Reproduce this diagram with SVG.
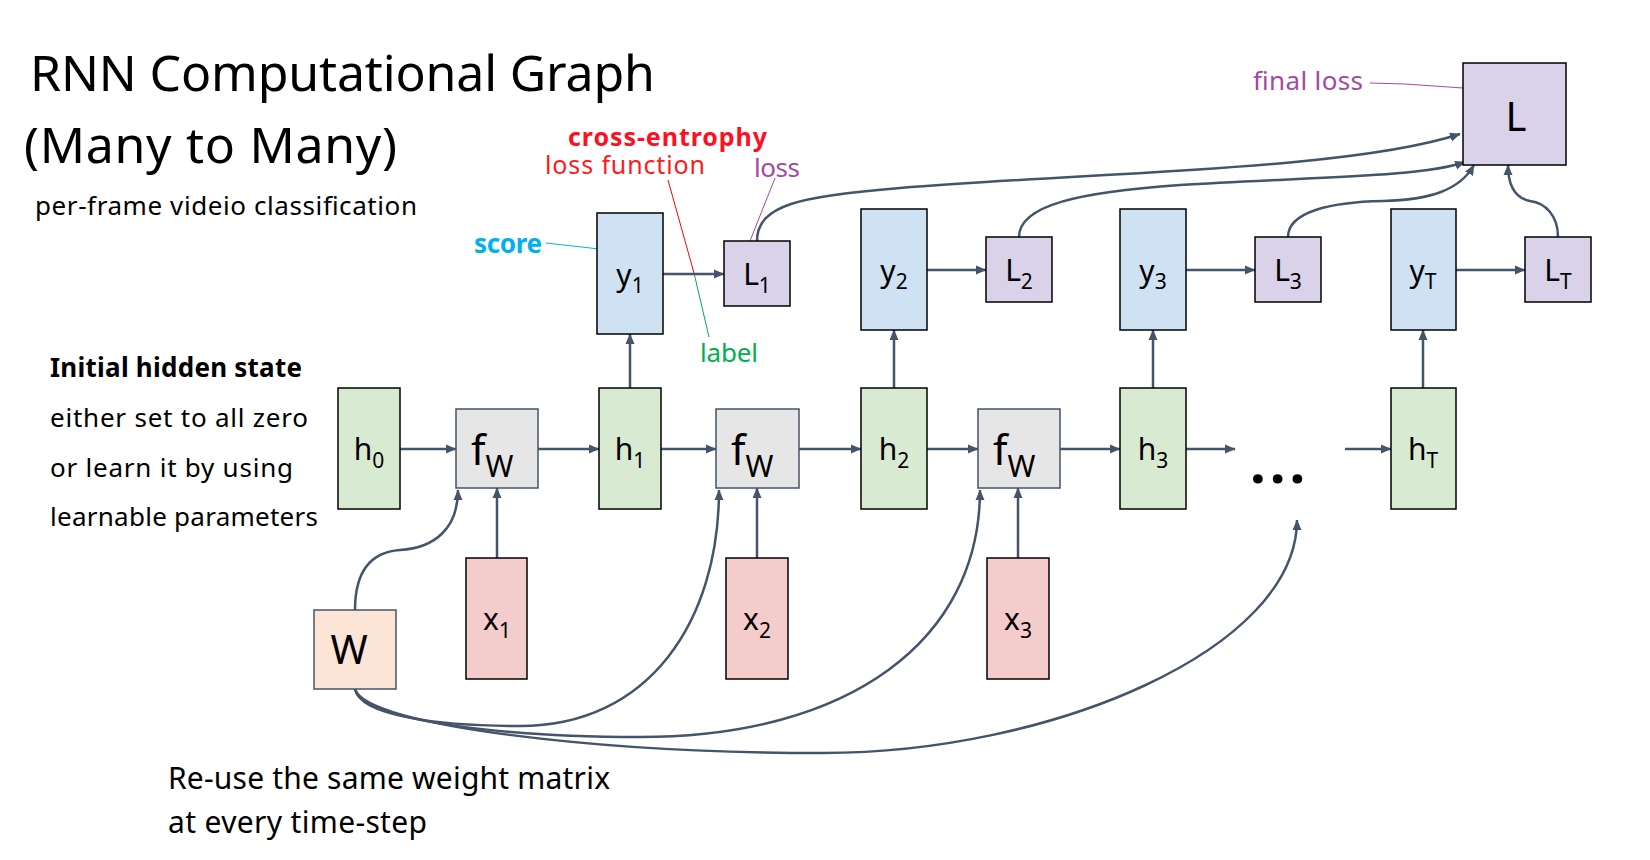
<svg xmlns="http://www.w3.org/2000/svg" width="1650" height="860" viewBox="0 0 1650 860">
<defs>
<style>
text{font-family:"Noto Sans","Liberation Sans",sans-serif;fill:#000}
.bh{fill:#D9EAD3;stroke:#000;stroke-width:1.5}
.by{fill:#CFE2F3;stroke:#000;stroke-width:1.5}
.bl{fill:#D9D2E9;stroke:#000;stroke-width:1.5}
.bx{fill:#F4CCCC;stroke:#000;stroke-width:1.5}
.bf{fill:#E7E6E6;stroke:#44546A;stroke-width:1.5}
.bw{fill:#FCE4D6;stroke:#44546A;stroke-width:1.5}
.lbl{font-size:30px;text-anchor:middle}
.sub{font-size:21px}
.fl{font-size:42px}
.fs{font-size:30px}
.c{fill:none;stroke:#44546A;stroke-width:2.5}
.a{marker-end:url(#ah)}
.t26{font-size:26px}
</style>
<marker id="ah" markerUnits="userSpaceOnUse" markerWidth="11" markerHeight="10" refX="10" refY="5" orient="auto" viewBox="0 0 11 10">
<path d="M0,0.5 L10.5,5 L0,9.5 z" fill="#44546A"/>
</marker>
</defs>
<rect width="1650" height="860" fill="#fff"/>

<!-- texts -->
<g id="titles">
<text x="30" y="91" font-size="50" textLength="625">RNN Computational Graph</text>
<text x="24" y="163" font-size="50" textLength="373">(Many to Many)</text>
<text x="35" y="215" class="t26" textLength="382">per-frame videio classification</text>
</g>
<g id="notes-left">
<text x="50" y="377" class="t26" font-weight="bold" textLength="252">Initial hidden state</text>
<text x="50" y="427" class="t26" textLength="258">either set to all zero</text>
<text x="50" y="477" class="t26" textLength="243">or learn it by using</text>
<text x="50" y="526" class="t26" textLength="268">learnable parameters</text>
</g>
<g id="notes-bottom">
<text x="168" y="789" font-size="30" textLength="442">Re-use the same weight matrix</text>
<text x="168" y="833" font-size="30" textLength="259">at every time-step</text>
</g>
<g id="annotations">
<text x="474" y="253" class="t26" font-weight="bold" style="fill:#00B0F0" textLength="68">score</text>
<line x1="546" y1="243" x2="599" y2="249" stroke="#00B0F0" stroke-width="1"/>
<text x="568" y="146" font-size="25" font-weight="bold" style="fill:#FF1020" textLength="199">cross-entrophy</text>
<text x="545" y="174" font-size="25" style="fill:#FF1A1A" textLength="160">loss function</text>
<line x1="668" y1="180" x2="694" y2="273" stroke="#FF0000" stroke-width="1"/>
<line x1="694" y1="273" x2="709" y2="337" stroke="#00B050" stroke-width="1"/>
<text x="700" y="362" class="t26" style="fill:#00B050" textLength="58">label</text>
<text x="754" y="177" class="t26" style="fill:#A349A4" textLength="46">loss</text>
<line x1="775" y1="178" x2="750" y2="241" stroke="#A349A4" stroke-width="1"/>
<text x="1253" y="90" class="t26" style="fill:#A349A4" textLength="110">final loss</text>
<polyline points="1370,83 1405,84 1463,88" fill="none" stroke="#A349A4" stroke-width="1"/>
</g>

<!-- connectors -->
<g id="connectors">
<line class="c a" x1="400" y1="449" x2="456" y2="449"/>
<line class="c a" x1="538" y1="449" x2="599" y2="449"/>
<line class="c a" x1="661" y1="449" x2="716" y2="449"/>
<line class="c a" x1="799" y1="449" x2="861" y2="449"/>
<line class="c a" x1="927" y1="449" x2="978" y2="449"/>
<line class="c a" x1="1060" y1="449" x2="1120" y2="449"/>
<line class="c a" x1="1186" y1="449" x2="1235" y2="449"/>
<line class="c a" x1="1345" y1="449" x2="1391" y2="449"/>
<line class="c a" x1="630" y1="388" x2="630" y2="334"/>
<line class="c a" x1="894" y1="388" x2="894" y2="330"/>
<line class="c a" x1="1153" y1="388" x2="1153" y2="330"/>
<line class="c a" x1="1423" y1="388" x2="1423" y2="330"/>
<line class="c a" x1="497" y1="558" x2="497" y2="488"/>
<line class="c a" x1="757" y1="558" x2="757" y2="488"/>
<line class="c a" x1="1018" y1="558" x2="1018" y2="488"/>
<line class="c a" x1="663" y1="274" x2="724" y2="274"/>
<line class="c a" x1="927" y1="270" x2="986" y2="270"/>
<line class="c a" x1="1186" y1="270" x2="1255" y2="270"/>
<line class="c a" x1="1456" y1="270" x2="1525" y2="270"/>
<path class="c a" d="M355,610 C355,570 372,552 400,550 C435,548 458,528 458,490"/>
<path class="c a" d="M355,689 C360,716 440,726 520,726 C650,726 719,620 719,490"/>
<path class="c a" d="M355,689 C362,720 500,737 640,737 C850,737 980,640 980,490"/>
<path class="c a" d="M355,689 C366,726 600,753 823,753 C1050,753 1297,650 1297,520"/>
<path class="c a" d="M757,241 C757,205 800,196 900,188 C1100,172 1350,170 1460,134"/>
<path class="c a" d="M1019,237 C1019,205 1080,192 1180,185 C1300,177 1420,178 1465,162"/>
<path class="c a" d="M1288,237 C1288,212 1330,202 1383,201 C1430,200 1460,190 1474,165"/>
<path class="c a" d="M1558,237 C1558,215 1545,203 1530,201 C1515,198 1508,185 1508,165"/>
</g>

<!-- nodes -->
<g id="node-h0"><rect class="bh" x="338" y="388" width="62" height="121"/><text class="lbl" x="369" y="460">h<tspan class="sub" dy="8">0</tspan></text></g>
<g id="node-h1"><rect class="bh" x="599" y="388" width="62" height="121"/><text class="lbl" x="630" y="460">h<tspan class="sub" dy="8">1</tspan></text></g>
<g id="node-h2"><rect class="bh" x="861" y="388" width="66" height="121"/><text class="lbl" x="894" y="460">h<tspan class="sub" dy="8">2</tspan></text></g>
<g id="node-h3"><rect class="bh" x="1120" y="388" width="66" height="121"/><text class="lbl" x="1153" y="460">h<tspan class="sub" dy="8">3</tspan></text></g>
<g id="node-hT"><rect class="bh" x="1391" y="388" width="65" height="121"/><text class="lbl" x="1423" y="460">h<tspan class="sub" dy="8">T</tspan></text></g>

<g id="node-fw1"><rect class="bf" x="456" y="409" width="82" height="79"/><text x="471" y="465"><tspan class="fl">f</tspan><tspan class="fs" dy="12">W</tspan></text></g>
<g id="node-fw2"><rect class="bf" x="716" y="409" width="83" height="79"/><text x="731" y="465"><tspan class="fl">f</tspan><tspan class="fs" dy="12">W</tspan></text></g>
<g id="node-fw3"><rect class="bf" x="978" y="409" width="82" height="79"/><text x="993" y="465"><tspan class="fl">f</tspan><tspan class="fs" dy="12">W</tspan></text></g>

<g id="node-y1"><rect class="by" x="597" y="213" width="66" height="121"/><text class="lbl" x="630" y="286">y<tspan class="sub" dy="7">1</tspan></text></g>
<g id="node-y2"><rect class="by" x="861" y="209" width="66" height="121"/><text class="lbl" x="894" y="282">y<tspan class="sub" dy="7">2</tspan></text></g>
<g id="node-y3"><rect class="by" x="1120" y="209" width="66" height="121"/><text class="lbl" x="1153" y="282">y<tspan class="sub" dy="7">3</tspan></text></g>
<g id="node-yT"><rect class="by" x="1391" y="209" width="65" height="121"/><text class="lbl" x="1423" y="282">y<tspan class="sub" dy="7">T</tspan></text></g>

<g id="node-L1"><rect class="bl" x="724" y="241" width="66" height="65"/><text class="lbl" x="757" y="285">L<tspan class="sub" dy="8">1</tspan></text></g>
<g id="node-L2"><rect class="bl" x="986" y="237" width="66" height="65"/><text class="lbl" x="1019" y="281">L<tspan class="sub" dy="8">2</tspan></text></g>
<g id="node-L3"><rect class="bl" x="1255" y="237" width="66" height="65"/><text class="lbl" x="1288" y="281">L<tspan class="sub" dy="8">3</tspan></text></g>
<g id="node-LT"><rect class="bl" x="1525" y="237" width="66" height="65"/><text class="lbl" x="1558" y="281">L<tspan class="sub" dy="8">T</tspan></text></g>
<g id="node-L"><rect class="bl" x="1463" y="63" width="103" height="102"/><text class="lbl" x="1516" y="131" style="font-size:40px">L</text></g>

<g id="node-x1"><rect class="bx" x="466" y="558" width="61" height="121"/><text class="lbl" x="497" y="630">x<tspan class="sub" dy="8">1</tspan></text></g>
<g id="node-x2"><rect class="bx" x="726" y="558" width="62" height="121"/><text class="lbl" x="757" y="630">x<tspan class="sub" dy="8">2</tspan></text></g>
<g id="node-x3"><rect class="bx" x="987" y="558" width="62" height="121"/><text class="lbl" x="1018" y="630">x<tspan class="sub" dy="8">3</tspan></text></g>

<g id="node-W"><rect class="bw" x="314" y="610" width="82" height="79"/><text class="lbl" x="349" y="664" style="font-size:40px">W</text></g>

<g id="ellipsis"><text x="1250" y="483" font-size="56" font-weight="bold" letter-spacing="4">...</text></g>
</svg>
